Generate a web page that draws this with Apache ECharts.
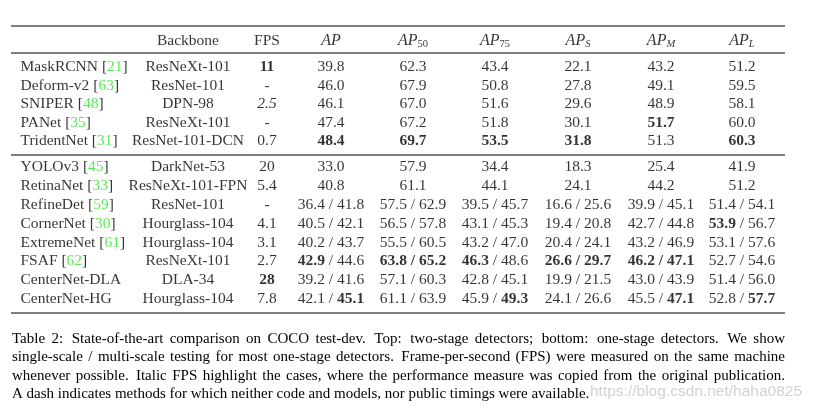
<!DOCTYPE html>
<html><head><meta charset="utf-8">
<script src="https://cdn.jsdelivr.net/npm/echarts@6/dist/echarts.min.js"></script>
<style>html,body{margin:0;padding:0;background:#fff}#c{width:813px;height:408px}</style>
</head><body><div id="c"></div>
<script>
// ---------------- DATA ----------------
const columnKeys = ['Method','Backbone','FPS','AP','AP50','AP75','APS','APM','APL'];
const headerMain = ['', 'Backbone', 'FPS', 'AP', 'AP', 'AP', 'AP', 'AP', 'AP'];
const headerSub  = ['', '', '', '', '50', '75', 'S', 'M', 'L'];

const topMethods   = ['MaskRCNN','Deform-v2','SNIPER','PANet','TridentNet'];
const topRefs      = ['21','63','48','35','31'];
const topBackbones = ['ResNeXt-101','ResNet-101','DPN-98','ResNeXt-101','ResNet-101-DCN'];
const topFPS       = ['11','-','2.5','-','0.7'];
const topAP   = [[39.8],[46.0],[46.1],[47.4],[48.4]];
const topAP50 = [[62.3],[67.9],[67.0],[67.2],[69.7]];
const topAP75 = [[43.4],[50.8],[51.6],[51.8],[53.5]];
const topAPS  = [[22.1],[27.8],[29.6],[30.1],[31.8]];
const topAPM  = [[43.2],[49.1],[48.9],[51.7],[51.3]];
const topAPL  = [[51.2],[59.5],[58.1],[60.0],[60.3]];

const bottomMethods   = ['YOLOv3','RetinaNet','RefineDet','CornerNet','ExtremeNet','FSAF','CenterNet-DLA','CenterNet-HG'];
const bottomRefs      = ['45','33','59','30','61','62','',''];
const bottomBackbones = ['DarkNet-53','ResNeXt-101-FPN','ResNet-101','Hourglass-104','Hourglass-104','ResNeXt-101','DLA-34','Hourglass-104'];
const bottomFPS       = ['20','5.4','-','4.1','3.1','2.7','28','7.8'];
const bottomAP   = [[33.0],[40.8],[36.4,41.8],[40.5,42.1],[40.2,43.7],[42.9,44.6],[39.2,41.6],[42.1,45.1]];
const bottomAP50 = [[57.9],[61.1],[57.5,62.9],[56.5,57.8],[55.5,60.5],[63.8,65.2],[57.1,60.3],[61.1,63.9]];
const bottomAP75 = [[34.4],[44.1],[39.5,45.7],[43.1,45.3],[43.2,47.0],[46.3,48.6],[42.8,45.1],[45.9,49.3]];
const bottomAPS  = [[18.3],[24.1],[16.6,25.6],[19.4,20.8],[20.4,24.1],[26.6,29.7],[19.9,21.5],[24.1,26.6]];
const bottomAPM  = [[25.4],[44.2],[39.9,45.1],[42.7,44.8],[43.2,46.9],[46.2,47.1],[43.0,43.9],[45.5,47.1]];
const bottomAPL  = [[41.9],[51.2],[51.4,54.1],[53.9,56.7],[53.1,57.6],[52.7,54.6],[51.4,56.0],[52.8,57.7]];

// emphasis (style) markers: [row, column, part]
const boldCells = [
  ['MaskRCNN','FPS',0],
  ['PANet','APM',0],
  ['TridentNet','AP',0],['TridentNet','AP50',0],['TridentNet','AP75',0],['TridentNet','APS',0],['TridentNet','APL',0],
  ['CornerNet','APL',0],
  ['FSAF','AP',0],['FSAF','AP50',0],['FSAF','AP50',1],['FSAF','AP75',0],['FSAF','APS',0],['FSAF','APS',1],['FSAF','APM',0],['FSAF','APM',1],
  ['CenterNet-DLA','FPS',0],
  ['CenterNet-HG','AP',1],['CenterNet-HG','AP75',1],['CenterNet-HG','APM',1],['CenterNet-HG','APL',1]
];
const italicCells = [['SNIPER','FPS',0]];

const captionLines = [
  'Table 2: State-of-the-art comparison on COCO test-dev. Top: two-stage detectors; bottom: one-stage detectors. We show',
  'single-scale / multi-scale testing for most one-stage detectors. Frame-per-second (FPS) were measured on the same machine',
  'whenever possible. Italic FPS highlight the cases, where the performance measure was copied from the original publication.',
  'A dash indicates methods for which neither code and models, nor public timings were available.'
];
const watermark = 'https://blog.csdn.net/haha0825';

// ---------------- LAYOUT ----------------
const W = 813, H = 408;
const colX = [20, 188, 267, 331, 413, 495, 578, 661, 742];
const FONT = 'Liberation Serif';
const FS = 15.5;

const boldSet = new Set(boldCells.map(c => c.join('|')));
const italSet = new Set(italicCells.map(c => c.join('|')));

function styled(row, col, part, s) {
  const k = row + '|' + col + '|' + part;
  if (boldSet.has(k)) return '{bd|' + s + '}';
  if (italSet.has(k)) return '{it|' + s + '}';
  return s;
}
function numCell(row, col, vals) {
  if (vals.length === 1) return styled(row, col, 0, vals[0].toFixed(1));
  const b0 = boldSet.has(row + '|' + col + '|0'), b1 = boldSet.has(row + '|' + col + '|1');
  const sep = (b0 && b1) ? '{bd| / }' : ' / ';
  return styled(row, col, 0, vals[0].toFixed(1)) + sep + styled(row, col, 1, vals[1].toFixed(1));
}

const rich = {
  bd: {fontFamily: FONT, fontSize: FS, fontWeight: 'bold', color: '#000'},
  it: {fontFamily: FONT, fontSize: FS, fontStyle: 'italic', color: '#000'},
  gr: {fontFamily: FONT, fontSize: FS, color: '#2ee82e'},
  mi: {fontFamily: FONT, fontSize: 16, fontStyle: 'italic', color: '#000'},
  sb: {fontFamily: FONT, fontSize: 10.5, color: '#000', padding: [7, 0, 0, 0]},
  si: {fontFamily: FONT, fontSize: 10.5, fontStyle: 'italic', color: '#000', padding: [7, 0, 0, 0]}
};

function buildBlock(methods, refs, backbones, fps, numCols) {
  const cols = [];
  cols.push(methods.map((m, i) => refs[i] ? m + ' [{gr|' + refs[i] + '}]' : m));
  cols.push(backbones.slice());
  cols.push(fps.map((f, i) => styled(methods[i], 'FPS', 0, f)));
  numCols.forEach((arr, j) => {
    const key = columnKeys[3 + j];
    cols.push(arr.map((v, i) => numCell(methods[i], key, v)));
  });
  return cols;
}

const topCols = buildBlock(topMethods, topRefs, topBackbones, topFPS, [topAP, topAP50, topAP75, topAPS, topAPM, topAPL]);
const botCols = buildBlock(bottomMethods, bottomRefs, bottomBackbones, bottomFPS, [bottomAP, bottomAP50, bottomAP75, bottomAPS, bottomAPM, bottomAPL]);

const headerCells = headerMain.map((m, i) => {
  if (!m) return '';
  if (m !== 'AP') return m;
  const s = headerSub[i];
  if (!s) return '{mi|AP}';
  return '{mi|AP}' + (/^[0-9]+$/.test(s) ? '{sb|' + s + '}' : '{si|' + s + '}');
});

const grids = [
  {left: 0, right: 0, top: 32, height: 18},
  {left: 0, right: 0, top: 57.75, height: 92.5},
  {left: 0, right: 0, top: 157.6, height: 150.9}
];
const xAxes = grids.map((g, i) => ({gridIndex: i, type: 'value', min: 0, max: W, show: false}));
const yAxes = [
  {gridIndex: 0, type: 'category', data: ['header'], inverse: true, show: false},
  {gridIndex: 1, type: 'category', data: topMethods, inverse: true, show: false},
  {gridIndex: 2, type: 'category', data: bottomMethods, inverse: true, show: false}
];

const series = [];
function addCol(gridIdx, cIdx, rows, texts) {
  const left = cIdx === 0;
  series.push({
    type: 'scatter', xAxisIndex: gridIdx, yAxisIndex: gridIdx, silent: true,
    symbolSize: 1, itemStyle: {color: 'rgba(0,0,0,0)'},
    label: {
      show: true, position: left ? 'right' : 'inside', distance: 0,
      align: left ? 'left' : 'center', verticalAlign: 'middle',
      fontFamily: FONT, fontSize: FS, color: '#000', rich: rich
    },
    data: rows.map((r, i) => ({value: [colX[cIdx], r], label: {formatter: texts[i]}}))
  });
}
headerCells.forEach((t, c) => { if (t) addCol(0, c, ['header'], [t]); });
topCols.forEach((texts, c) => addCol(1, c, topMethods, texts));
botCols.forEach((texts, c) => addCol(2, c, bottomMethods, texts));

// rules
const rules = [[26, 1.2], [53, 1], [155, 1], [313, 1.2]];
const graphic = rules.map(([y, w]) => ({
  type: 'line', shape: {x1: 11, y1: y, x2: 785, y2: y}, style: {stroke: '#000', lineWidth: w}, silent: true
}));

// watermark (behind text)
graphic.push({type: 'text', x: 590, y: 392, z: -1, silent: true,
  style: {text: watermark, font: '15.5px "Liberation Sans"', fill: '#d2d2d2', textVerticalAlign: 'middle'}});

// caption, justified
const CFS = 15;
const cfont = CFS + 'px "' + FONT + '"';
const ctx = document.createElement('canvas').getContext('2d');
ctx.font = cfont;
const capLeft = 12, capRight = 785, capY0 = 339, capDy = 18.5;
captionLines.forEach((line, li) => {
  const y = capY0 + li * capDy;
  const justify = li < captionLines.length - 1;
  if (!justify) {
    graphic.push({type: 'text', x: capLeft, y: y, silent: true,
      style: {text: line, font: cfont, fill: '#000', textVerticalAlign: 'middle'}});
    return;
  }
  const words = line.split(' ');
  const widths = words.map(w => ctx.measureText(w).width);
  const total = widths.reduce((a, b) => a + b, 0);
  const weights = words.slice(0, -1).map(w => /[.:;]$/.test(w) ? 1.35 : 1);
  const wsum = weights.reduce((a, b) => a + b, 0);
  const unit = (capRight - capLeft - total) / wsum;
  let x = capLeft;
  words.forEach((w, i) => {
    graphic.push({type: 'text', x: x, y: y, silent: true,
      style: {text: w, font: cfont, fill: '#000', textVerticalAlign: 'middle'}});
    x += widths[i] + (i < weights.length ? weights[i] * unit : 0);
  });
});

const chart = echarts.init(document.getElementById('c'), null, {renderer: 'canvas', width: W, height: H});
chart.setOption({
  animation: false,
  backgroundColor: '#fff',
  grid: grids, xAxis: xAxes, yAxis: yAxes,
  series: series,
  graphic: graphic
});
</script></body></html>
